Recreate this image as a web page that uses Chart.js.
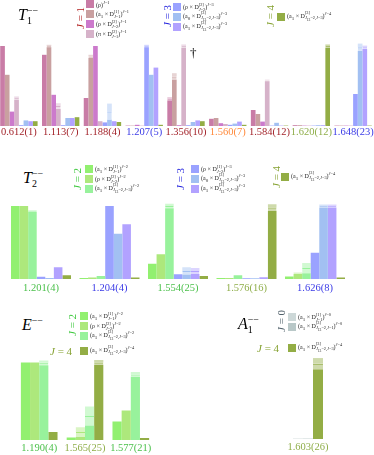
<!DOCTYPE html>
<html>
<head>
<meta charset="utf-8">
<script src="https://cdn.jsdelivr.net/npm/chart.js@4"></script>
<style>
body { margin: 0; background: #fff; }
#fig { position: relative; width: 374px; height: 455px; overflow: hidden; font-family: "Liberation Serif", "DejaVu Serif", serif; }
#fig canvas { position: absolute; }
.title { position: absolute; font-size: 16px; line-height: 1; white-space: nowrap; }
.title .ss { font-size: 0.62em; }
.jrot { position: absolute; font-size: 11px; line-height: 11px; white-space: nowrap; writing-mode: vertical-rl; transform: rotate(180deg); text-align: center; }
.jflat { position: absolute; font-size: 11px; line-height: 1; white-space: nowrap; }
.leg { position: absolute; font-size: 6px; white-space: nowrap; color: #222; }
.row { height: 10px; display: flex; align-items: center; }
.sw { width: 8px; height: 8px; margin-right: 2px; flex: none; }
.ss { display: inline-flex; flex-direction: column; vertical-align: middle; font-size: 0.72em; line-height: 1.05; }
.leg sup { font-size: 0.72em; }
.dag { position: absolute; font-size: 13px; line-height: 1; }
</style>
</head>
<body>
<div id="fig">
  <canvas id="t1" width="376" height="140" style="left:-2px;top:0px"></canvas>
  <canvas id="t2" width="374" height="107" style="left:0px;top:190px"></canvas>
  <canvas id="e" width="170" height="116" style="left:0px;top:340px"></canvas>
  <canvas id="a1" width="80" height="115" style="left:270px;top:340px"></canvas>
  <div id="legends"></div>
</div>
<script>
// ---- colours ----
const red = '#a3242b', blue = '#3a3ae6', orange = '#ff8a3c', olive = '#8fae4a', green = '#4cc04c';

const cRho1 = '#c97ca6';
const cA1D1_1 = '#c9a0a0';
const cRhoD2_1 = '#cc7acc';
const cPiD2_1 = '#d6b2c9';
const cRhoD2_3 = '#9aa2ff';
const cA0D3_3 = '#a2c0f2';
const cA1D3_3 = '#b2a2ff';
const cA1D3_4 = '#93ad45';
const cA1D1_2 = '#92f070';
const cRhoD2_2 = '#ade87c';
const cA1D3_2 = '#98f29c';
const cA1D1_0 = '#cdd8d8';
const cA1D3_0 = '#b9c8c8';

// ---- T1-- ----
const t1Labels = ['0.612(1)', '1.113(7)', '1.188(4)', '1.207(5)', '1.356(10)', '1.560(7)', '1.584(12)', '1.620(12)', '1.648(23)'];
const t1LabelColors = [red, red, red, blue, red, orange, red, olive, blue];
const t1Rho = [1.0, 0.89, 0.35, 0.005, 0.34, 0.09, 0.20, 0.01, 0.005];
const t1RhoErr = [0, 0, 0, 0, 0.02, 0, 0, 0, 0];
const t1A1D1 = [0.64, 1.0, 0.87, 0.005, 0.62, 0.10, 0.15, 0.01, 0.005];
const t1A1D1Err = [0, 0.015, 0.02, 0, 0.04, 0, 0, 0, 0];
const t1RhoD2 = [0.18, 0.39, 1.0, 0.015, 0.01, 0.035, 0.055, 0.005, 0.005];
const t1RhoD2Err = [0, 0, 0, 0, 0, 0, 0, 0, 0];
const t1PiD2 = [0.35, 0.25, 0.06, 0.005, 1.0, 0.025, 0.57, 0.005, 0.005];
const t1PiD2Err = [0.02, 0.035, 0, 0, 0.02, 0, 0.01, 0, 0];
const t1RhoD2J3 = [0.01, 0.01, 0.045, 1.0, 0.01, 0.015, 0.005, 0.005, 0.40];
const t1RhoD2J3Err = [0, 0, 0, 0.015, 0, 0, 0, 0, 0];
const t1A0D3J3 = [0.07, 0.10, 0.18, 0.64, 0.05, 0.03, 0.04, 0.01, 0.985];
const t1A0D3J3Err = [0, 0, 0.1, 0, 0, 0, 0, 0, 0.045];
const t1A1D3J3 = [0.06, 0.10, 0.06, 0.73, 0.07, 0.055, 0.005, 0.01, 0.985];
const t1A1D3J3Err = [0, 0, 0, 0, 0, 0, 0, 0, 0.02];
const t1A1D3J4 = [0.06, 0.11, 0.05, 0.015, 0.06, 0.015, 0.005, 1.0, 0.005];
const t1A1D3J4Err = [0, 0, 0, 0, 0, 0, 0, 0.02, 0];

// ---- T2-- ----
const t2Labels = ['1.201(4)', '1.204(4)', '1.554(25)', '1.576(16)', '1.626(8)'];
const t2LabelColors = [green, blue, green, olive, blue];
const t2A1D1 = [1.0, 0.015, 0.21, 0.015, 0.035];
const t2A1D1Err = [0, 0, 0, 0, 0];
const t2RhoD2 = [1.0, 0.02, 0.34, 0.015, 0.08];
const t2RhoD2Err = [0, 0, 0, 0, 0.01];
const t2A1D3 = [0.93, 0.04, 1.0, 0.05, 0.15];
const t2A1D3Err = [0.01, 0, 0.03, 0, 0.07];
const t2RhoD2J3 = [0.03, 1.0, 0.065, 0.01, 0.36];
const t2RhoD2J3Err = [0, 0, 0, 0, 0];
const t2A0D3J3 = [0.015, 0.62, 0.11, 0.01, 1.0];
const t2A0D3J3Err = [0, 0, 0.05, 0, 0.02];
const t2A1D3J3 = [0.16, 0.75, 0.11, 0.025, 1.0];
const t2A1D3J3Err = [0, 0, 0.04, 0, 0.02];
const t2A1D3J4 = [0.05, 0.02, 0.04, 0.98, 0.02];
const t2A1D3J4Err = [0, 0, 0, 0.045, 0];

// ---- E-- ----
const eLabels = ['1.190(4)', '1.565(25)', '1.577(21)'];
const eLabelColors = [green, olive, green];
const eA1D1 = [0.97, 0.03, 0.23];
const eA1D1Err = [0, 0, 0];
const eRhoD2 = [0.97, 0.10, 0.37];
const eRhoD2Err = [0, 0.06, 0];
const eA1D3 = [0.965, 0.30, 0.82];
const eA1D3Err = [0.03, 0.12, 0.03];
const eA1D3J4 = [0.10, 0.97, 0.025];
const eA1D3J4Err = [0, 0.03, 0];

// ---- A1-- ----
const a1Labels = ['1.603(26)'];
const a1LabelColors = [olive];
const a1A1D1 = [0.005];
const a1A1D3 = [0.005];
const a1A1D3J4 = [0.93];
const a1A1D3J4Err = [0.07];

function fade(hex, a) {
    const n = parseInt(hex.slice(1), 16);
    return `rgba(${(n >> 16) & 255}, ${(n >> 8) & 255}, ${n & 255}, ${a})`;
}

function makePanel(id, labels, labelColors, bars, cfg) {
    const datasets = [];
    bars.forEach((b, i) => {
        const stack = 's' + i;
        const errs = b.errors || b.values.map(() => 0);
        datasets.push({ data: b.values.map((v, k) => v - errs[k]), backgroundColor: b.color, stack });
        datasets.push({
            data: errs, backgroundColor: fade(b.color, 0.45), stack,
            borderColor: b.color, borderWidth: { top: 1, left: 0, right: 0, bottom: 0 }, borderSkipped: false
        });
        datasets.push({ data: errs, backgroundColor: fade(b.color, 0.45), stack });
    });

    new Chart(document.getElementById(id), {
        type: 'bar',
        data: { labels: labels, datasets: datasets },
        options: {
            responsive: false,
            animation: false,
            devicePixelRatio: 1,
            layout: { padding: cfg.padding },
            datasets: { bar: { barPercentage: 1, categoryPercentage: cfg.catPct } },
            plugins: { legend: { display: false }, tooltip: { enabled: false } },
            scales: {
                x: {
                    stacked: true,
                    grid: { display: false, drawTicks: false },
                    border: { display: false },
                    ticks: {
                        autoSkip: false, maxRotation: 0, padding: cfg.tickPad,
                        color: ctx => labelColors[ctx.index],
                        font: { family: '"Liberation Serif", serif', size: 10.5 }
                    },
                    afterFit: s => { s.height = cfg.axisH; }
                },
                y: { stacked: true, display: false, min: 0, max: cfg.yMax }
            }
        }
    });
}

makePanel('t1', t1Labels, t1LabelColors, [
    { values: t1Rho, errors: t1RhoErr, color: cRho1 },
    { values: t1A1D1, errors: t1A1D1Err, color: cA1D1_1 },
    { values: t1RhoD2, errors: t1RhoD2Err, color: cRhoD2_1 },
    { values: t1PiD2, errors: t1PiD2Err, color: cPiD2_1 },
    { values: t1RhoD2J3, errors: t1RhoD2J3Err, color: cRhoD2_3 },
    { values: t1A0D3J3, errors: t1A0D3J3Err, color: cA0D3_3 },
    { values: t1A1D3J3, errors: t1A1D3J3Err, color: cA1D3_3 },
    { values: t1A1D3J4, errors: t1A1D3J4Err, color: cA1D3_4 }
], { padding: { top: 41, left: 0, right: 0, bottom: 0 }, catPct: 0.895, tickPad: 0, axisH: 14, yMax: 1.0625 });

makePanel('t2', t2Labels, t2LabelColors, [
    { values: t2A1D1, errors: t2A1D1Err, color: cA1D1_2 },
    { values: t2RhoD2, errors: t2RhoD2Err, color: cRhoD2_2 },
    { values: t2A1D3, errors: t2A1D3Err, color: cA1D3_2 },
    { values: t2RhoD2J3, errors: t2RhoD2J3Err, color: cRhoD2_3 },
    { values: t2A0D3J3, errors: t2A0D3J3Err, color: cA0D3_3 },
    { values: t2A1D3J3, errors: t2A1D3J3Err, color: cA1D3_3 },
    { values: t2A1D3J4, errors: t2A1D3J4Err, color: cA1D3_4 }
], { padding: { top: 10, left: 6.75, right: 24.75, bottom: 0 }, catPct: 0.876, tickPad: 3, axisH: 18, yMax: 1.082 });

makePanel('e', eLabels, eLabelColors, [
    { values: eA1D1, errors: eA1D1Err, color: cA1D1_2 },
    { values: eRhoD2, errors: eRhoD2Err, color: cRhoD2_2 },
    { values: eA1D3, errors: eA1D3Err, color: cA1D3_2 },
    { values: eA1D3J4, errors: eA1D3J4Err, color: cA1D3_4 }
], { padding: { top: 16, left: 16.3, right: 16.3, bottom: 0 }, catPct: 0.8, tickPad: 1.5, axisH: 16, yMax: 1.05 });

makePanel('a1', a1Labels, a1LabelColors, [
    { values: a1A1D1, color: cA1D1_0 },
    { values: a1A1D3, color: cA1D3_0 },
    { values: a1A1D3J4, errors: a1A1D3J4Err, color: cA1D3_4 }
], { padding: { top: 14, left: 15, right: 19, bottom: 0 }, catPct: 0.652, tickPad: 2, axisH: 16, yMax: 1.05 });

// ---- titles and legends (HTML text) ----
function ss(up, down) {
    return `<span class="ss"><span>${up}</span><span>${down}</span></span>`;
}
function op(a, up, down, J) {
    return `(${a} × D${ss(up, down)})<sup><i>J</i>=${J}</sup>`;
}
const J13 = (j) => `<i>J</i><sub>13</sub>=2,<i>J</i>=${j}`;
const Jeq = (j) => `<i>J</i>=${j}`;
const a0 = 'a<sub>0</sub>', a1 = 'a<sub>1</sub>';

let html = '';
function title(x, y, letter, sub, sup) {
    html += `<div class="title" style="left:${x}px;top:${y}px"><i>${letter}</i>${ss(sup, sub || '&nbsp;')}</div>`;
}
function jrot(x, y, h, j, color) {
    html += `<div class="jrot" style="left:${x}px;top:${y}px;height:${h}px;color:${color}"><i>J</i> = ${j}</div>`;
}
function jflat(x, y, j, color) {
    html += `<div class="jflat" style="left:${x}px;top:${y}px;color:${color}"><i>J</i> = ${j}</div>`;
}
function legend(x, y, rows) {
    html += `<div class="leg" style="left:${x}px;top:${y}px">` +
        rows.map(r => `<div class="row"><span class="sw" style="background:${r[0]}"></span><span>${r[1]}</span></div>`).join('') +
        '</div>';
}

// T1
title(18, 6, 'T', '1', '−−');
jrot(75, 1, 34, 1, '#b01c1c');
legend(86, -1, [
    [cRho1, `(ρ)<sup><i>J</i>=1</sup>`],
    [cA1D1_1, op(a1, '[1]', Jeq(1), 1)],
    [cRhoD2_1, op('ρ', '[2]', Jeq(2), 1)],
    [cPiD2_1, op('π', '[2]', Jeq(1), 1)]
]);
jrot(162, 0, 32, 3, '#2222dd');
legend(173, 2, [
    [cRhoD2_3, op('ρ', '[2]', Jeq(2), 3)],
    [cA0D3_3, op(a0, '[3]', J13(3), 3)],
    [cA1D3_3, op(a1, '[3]', J13(3), 3)]
]);
jrot(265, 0, 32, 4, '#86a232');
legend(277, 12, [[cA1D3_4, op(a1, '[3]', J13(3), 4)]]);
html += '<div class="dag" style="left:190px;top:46px">†</div>';

// T2
title(23, 169, 'T', '2', '−−');
jrot(72, 162, 33, 2, '#3cc83c');
legend(85, 164, [
    [cA1D1_2, op(a1, '[1]', Jeq(1), 2)],
    [cRhoD2_2, op('ρ', '[2]', Jeq(2), 2)],
    [cA1D3_2, op(a1, '[3]', J13(3), 2)]
]);
jrot(175, 162, 33, 3, '#2222dd');
legend(191, 164, [
    [cRhoD2_3, op('ρ', '[1]', Jeq(2), 3)],
    [cA0D3_3, op(a0, '[3]', J13(3), 3)],
    [cA1D3_3, op(a1, '[3]', J13(3), 3)]
]);
jrot(271, 160, 33, 4, '#86a232');
legend(281, 172, [[cA1D3_4, op(a1, '[3]', J13(3), 4)]]);

// E
title(22, 316, 'E', '', '−−');
jrot(67, 309, 32, 2, '#3cc83c');
legend(80, 311, [
    [cA1D1_2, op(a1, '[1]', Jeq(1), 2)],
    [cRhoD2_2, op('ρ', '[2]', Jeq(2), 2)],
    [cA1D3_2, op(a1, '[3]', J13(3), 2)]
]);
jflat(50, 346, 4, '#86a232');
legend(80, 346, [[cA1D3_4, op(a1, '[3]', J13(3), 4)]]);

// A1
title(238, 315, 'A', '1', '−−');
jrot(276, 305, 32, 0, '#50606a');
legend(288, 312, [
    [cA1D1_0, op(a1, '[1]', Jeq(1), 0)],
    [cA1D3_0, op(a1, '[3]', J13(1), 0)]
]);
jflat(257, 343, 4, '#86a232');
legend(288, 343, [[cA1D3_4, op(a1, '[3]', J13(3), 4)]]);

document.getElementById('legends').innerHTML = html;
</script>
</body>
</html>
